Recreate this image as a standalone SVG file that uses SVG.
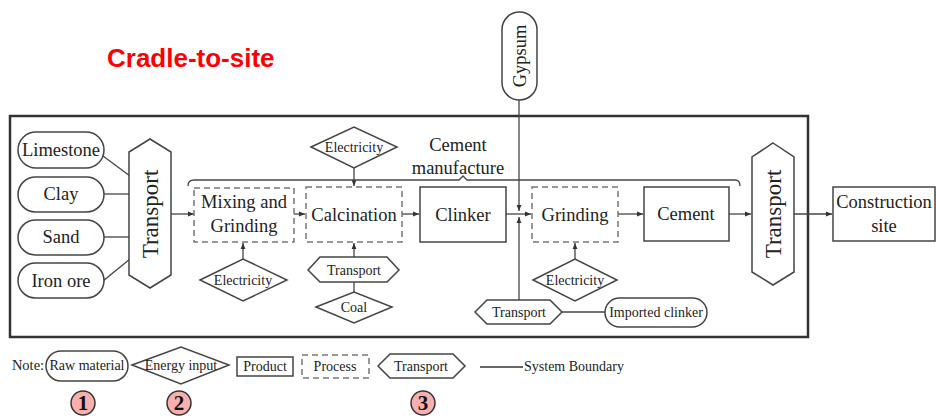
<svg xmlns="http://www.w3.org/2000/svg" width="936" height="417" viewBox="0 0 936 417">
<defs>
<marker id="ah" viewBox="0 0 10 10" refX="10" refY="5" markerWidth="6" markerHeight="6" orient="auto" markerUnits="userSpaceOnUse">
<path d="M0,1 L10,5 L0,9 z" fill="#333"/>
</marker>
<style>
.s{fill:#fff;stroke:#444;stroke-width:1.5}
.d{fill:#fff;stroke:#777;stroke-width:1.5;stroke-dasharray:6,4}
.t{font-family:"Liberation Serif","Times New Roman",serif;fill:#222;text-anchor:middle}
.big{font-size:18.5px}
.sm{font-size:14px}
.c{fill:none;stroke:#444;stroke-width:1.3}
.a{fill:none;stroke:#444;stroke-width:1.3;marker-end:url(#ah)}
.num{fill:#f7b0ae;stroke:#333;stroke-width:1.5}
.nt{font-family:"Liberation Serif","Times New Roman",serif;font-size:21px;font-weight:bold;fill:#111;text-anchor:middle}
</style>
</defs>
<rect width="936" height="417" fill="#fff"/>
<text x="107" y="67" font-family="Liberation Sans,Arial,sans-serif" font-weight="bold" font-size="26" fill="#f00">Cradle-to-site</text>

<g id="boundary"><rect x="10" y="116" width="798" height="221" fill="none" stroke="#333" stroke-width="2.5"/></g>

<g id="connectors">
<path class="c" d="M103,156 L130,176"/>
<path class="c" d="M103,194 L129,194"/>
<path class="c" d="M103,237 L129,237"/>
<path class="c" d="M103,281 L130,259"/>
<path class="a" d="M171,214 L194,214"/>
<path class="a" d="M294,214 L305,214"/>
<path class="a" d="M402,214 L419,214"/>
<path class="a" d="M506,214 L531,214"/>
<path class="a" d="M618,214 L643,214"/>
<path class="a" d="M729,214 L751,214"/>
<path class="a" d="M794,214 L832,214"/>
<path class="a" d="M243,259 L243,243"/>
<path class="a" d="M354,168 L354,186"/>
<path class="a" d="M354,257 L354,243"/>
<path class="c" d="M354,292 L354,282"/>
<path class="a" d="M575,259 L575,243"/>
<path class="a" d="M519,100 L519,211"/>
<path class="a" d="M519,300 L519,217"/>
<path class="c" d="M562,312 L605,312"/>
<path class="c" d="M188,186 Q188,180 194,180 L459,180 L463,176 L467,180 L735,180 Q740,180 740,186"/>
</g>

<g id="gypsum"><rect class="s" x="502" y="12" width="35" height="88" rx="17.5"/><text class="t big" transform="translate(526,56) rotate(-90)">Gypsum</text></g>

<g id="limestone"><rect class="s" x="18" y="132" width="86" height="36" rx="18"/><text class="t big" x="61" y="156">Limestone</text></g>
<g id="clay"><rect class="s" x="18" y="177" width="86" height="35" rx="17.5"/><text class="t big" x="61" y="200">Clay</text></g>
<g id="sand"><rect class="s" x="18" y="220" width="86" height="35" rx="17.5"/><text class="t big" x="61" y="243">Sand</text></g>
<g id="ironore"><rect class="s" x="18" y="263" width="86" height="35" rx="17.5"/><text class="t big" x="61" y="287">Iron ore</text></g>

<g id="transport1"><polygon class="s" points="150,139 171,152 171,275 150,288 129,275 129,152"/><text class="t" font-size="23" transform="translate(158,214) rotate(-90)">Transport</text></g>

<g id="mixing"><rect class="d" x="194" y="188" width="100" height="54"/><text class="t big" x="244" y="208">Mixing and</text><text class="t big" x="244" y="232">Grinding</text></g>
<g id="elec1"><polygon class="s" points="200,280 243,259 287,280 243,301"/><text class="t sm" x="243" y="285">Electricity</text></g>

<g id="calcination"><rect class="d" x="306" y="187" width="96" height="55"/><text class="t big" x="354" y="221">Calcination</text></g>
<g id="elec2"><polygon class="s" points="311,147 354,127 397,147 354,168"/><text class="t sm" x="354" y="152">Electricity</text></g>
<g id="transport2"><polygon class="s" points="308,270 320,257 387,257 399,270 387,282 320,282"/><text class="t sm" x="354" y="275">Transport</text></g>
<g id="coal"><polygon class="s" points="316,307 354,292 392,307 354,323"/><text class="t sm" x="354" y="312">Coal</text></g>

<g id="label"><text class="t big" x="458" y="151">Cement</text><text class="t big" x="458" y="174">manufacture</text></g>

<g id="clinker"><rect class="s" x="420" y="187" width="86" height="55"/><text class="t big" x="463" y="221">Clinker</text></g>
<g id="grinding"><rect class="d" x="532" y="187" width="86" height="55"/><text class="t big" x="575" y="221">Grinding</text></g>
<g id="elec3"><polygon class="s" points="533,280 575,259 617,280 575,301"/><text class="t sm" x="575" y="285">Electricity</text></g>
<g id="transport3"><polygon class="s" points="475,312 487,300 550,300 562,312 550,324 487,324"/><text class="t sm" x="519" y="317">Transport</text></g>
<g id="imported"><rect class="s" x="605" y="298" width="102" height="29" rx="14.5"/><text class="t sm" x="656" y="317">Imported clinker</text></g>
<g id="cement"><rect class="s" x="644" y="187" width="85" height="54"/><text class="t big" x="686" y="220">Cement</text></g>
<g id="transport4"><polygon class="s" points="773,143 794,157 794,272 773,285 752,272 752,157"/><text class="t" font-size="23" transform="translate(781,214) rotate(-90)">Transport</text></g>
<g id="site"><rect class="s" x="833" y="187" width="102" height="54"/><text class="t big" x="884" y="208">Construction</text><text class="t big" x="884" y="232">site</text></g>

<g id="legend">
<text class="t" font-size="14.5" x="28" y="370">Note:</text>
<rect class="s" x="46" y="351" width="82" height="30" rx="15" stroke-width="1.2"/><text class="t" font-size="14" x="87" y="370">Raw material</text>
<polygon class="s" stroke-width="1.2" points="132,365 181,347 229,365 181,384"/><text class="t" font-size="14" x="181" y="370">Energy input</text>
<rect class="s" stroke-width="1.2" x="237" y="357" width="56" height="19"/><text class="t" font-size="14" x="265" y="371">Product</text>
<rect class="d" stroke-width="1.2" x="302" y="355" width="67" height="23"/><text class="t" font-size="14" x="335" y="371">Process</text>
<polygon class="s" stroke-width="1.2" points="378,366 390,354 453,354 465,366 453,378 390,378"/><text class="t" font-size="14" x="421" y="371">Transport</text>
<path d="M480,367 L523,367" stroke="#333" stroke-width="1.5"/>
<text class="t" font-size="14" x="574" y="371">System Boundary</text>
<circle class="num" cx="83" cy="403" r="12"/><text class="nt" x="83" y="410">1</text>
<circle class="num" cx="179" cy="403" r="12"/><text class="nt" x="179" y="410">2</text>
<circle class="num" cx="423" cy="403" r="12"/><text class="nt" x="423" y="410">3</text>
</g>
</svg>
